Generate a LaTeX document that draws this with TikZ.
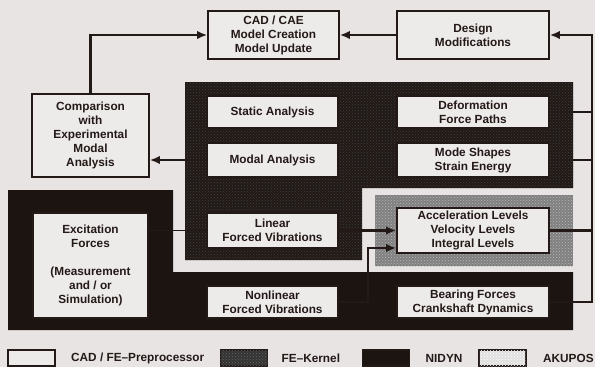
\documentclass[tikz,border=0pt]{standalone}
\usepackage{fontspec}
\setmainfont{Liberation Sans}
\usetikzlibrary{arrows.meta,positioning,patterns}

\definecolor{paper}{HTML}{E8E4E4}
\definecolor{boxfill}{HTML}{EDEAEA}
\definecolor{ink}{HTML}{231A18}
\definecolor{kern}{HTML}{211916}
\definecolor{nidyn}{HTML}{1C1411}

\begin{document}
\begin{tikzpicture}[x=1pt,y=-1pt,
  every node/.style={font=\bfseries\fontsize{11.8}{14}\selectfont, text=ink},
  blk/.style={draw=ink, line width=1.6pt, fill=boxfill, align=center, inner sep=0pt},
  flow/.style={draw=ink, line width=2.8pt, -{Latex[length=10pt,width=8.5pt]}},
  link/.style={draw=ink, line width=2.8pt},
  fekern/.style={fill=kern, postaction={pattern=crosshatch dots, pattern color=black!75}},
  nidynarea/.style={fill=nidyn},
  akupos/.style={fill=black!50, postaction={pattern=crosshatch dots, pattern color=black!28}},
  legbox/.style={draw=ink, line width=1.3pt, minimum width=47pt, minimum height=16pt, inner sep=0pt}
]
\fill[paper] (0,0) rectangle (595,367);
\useasboundingbox (0,0) rectangle (595,367);

% program areas
\path[fekern] (185,82) -- (573,82) -- (573,188) -- (362,188) -- (362,260) -- (185,260) -- cycle;
\path[nidynarea] (8,190) -- (173,190) -- (173,272) -- (573,272) -- (573,330) -- (8,330) -- cycle;
\path[akupos] (375,195) rectangle (573,266);

% top row
\node[blk, minimum width=131pt, minimum height=48pt] (cad) at (273.5,35) {CAD / CAE\\Model Creation\\Model Update};
\node[blk, minimum width=152pt, minimum height=48pt] (des) at (473,35) {Design\\Modifications};
\node[blk, minimum width=117pt, minimum height=83pt] (comp) at (90.5,135.5) {Comparison\\with\\Experimental\\Modal\\Analysis};

% FE kernel
\node[blk, minimum width=131pt, minimum height=32pt] (stat) at (272.5,112) {Static Analysis};
\node[blk, minimum width=131pt, minimum height=34pt] (modal) at (272.5,160) {Modal Analysis};
\node[blk, minimum width=131pt, minimum height=35pt] (lin) at (272.5,230.5) {Linear\\Forced Vibrations};
\node[blk, minimum width=152pt, minimum height=32pt] (defo) at (473,112) {Deformation\\Force Paths};
\node[blk, minimum width=152pt, minimum height=34pt] (mode) at (473,160) {Mode Shapes\\Strain Energy};

% NIDYN / AKUPOS
\node[blk, minimum width=115pt, minimum height=105pt] (exc) at (90.5,265.5) {Excitation\\Forces\\[14pt](Measurement\\and / or\\Simulation)};
\node[blk, minimum width=131pt, minimum height=32pt] (nonlin) at (272.5,302) {Nonlinear\\Forced Vibrations};
\node[blk, minimum width=152pt, minimum height=45pt] (acc) at (473,230.5) {Acceleration Levels\\Velocity Levels\\Integral Levels};
\node[blk, minimum width=152pt, minimum height=32pt] (bear) at (473,302) {Bearing Forces\\Crankshaft Dynamics};

\coordinate (bus) at (592,35);
\coordinate (nbend) at (368,248);

% connections
\draw[flow] (comp.north) |- (cad.west);
\draw[flow] (des.west) -- (cad.east);
\draw[flow] (modal.west) -- (modal.west -| comp.east);
\draw[link, line width=1.8pt] (lin.west -| exc.east) -- (lin.west);
\draw[flow] (lin.east) -- (acc.west);
\draw[flow] (nonlin.east) -| (nbend) -- (nbend -| acc.west);
\draw[link] (defo.east) -- (defo.east -| bus);
\draw[link] (mode.east) -- (mode.east -| bus);
\draw[link] (acc.east) -- (acc.east -| bus);
\draw[flow] (bear.east) -- (bear.east -| bus) |- (des.east);

% legend
\node[legbox, fill=black!80, postaction={pattern=crosshatch dots, pattern color=black!60}] (lgkern) at (244,358) {};
\node[legbox, fill=boxfill] (lgcad) at (31.5,358) {};
\node[right=12pt of lgcad] (lgcadtxt) {CAD / FE–Preprocessor};
\node[right=10pt of lgkern] (lgkerntxt) {FE–Kernel};
\node[legbox, nidynarea] (lgnidyn) at (386,358) {};
\node[right=12pt of lgnidyn] (lgnidyntxt) {NIDYN};
\node[legbox, fill=black!12, postaction={pattern=crosshatch dots, pattern color=white}] (lgaku) at (502.5,358) {};
\node[right=13pt of lgaku] (lgakutxt) {AKUPOS};
\end{tikzpicture}
\end{document}
